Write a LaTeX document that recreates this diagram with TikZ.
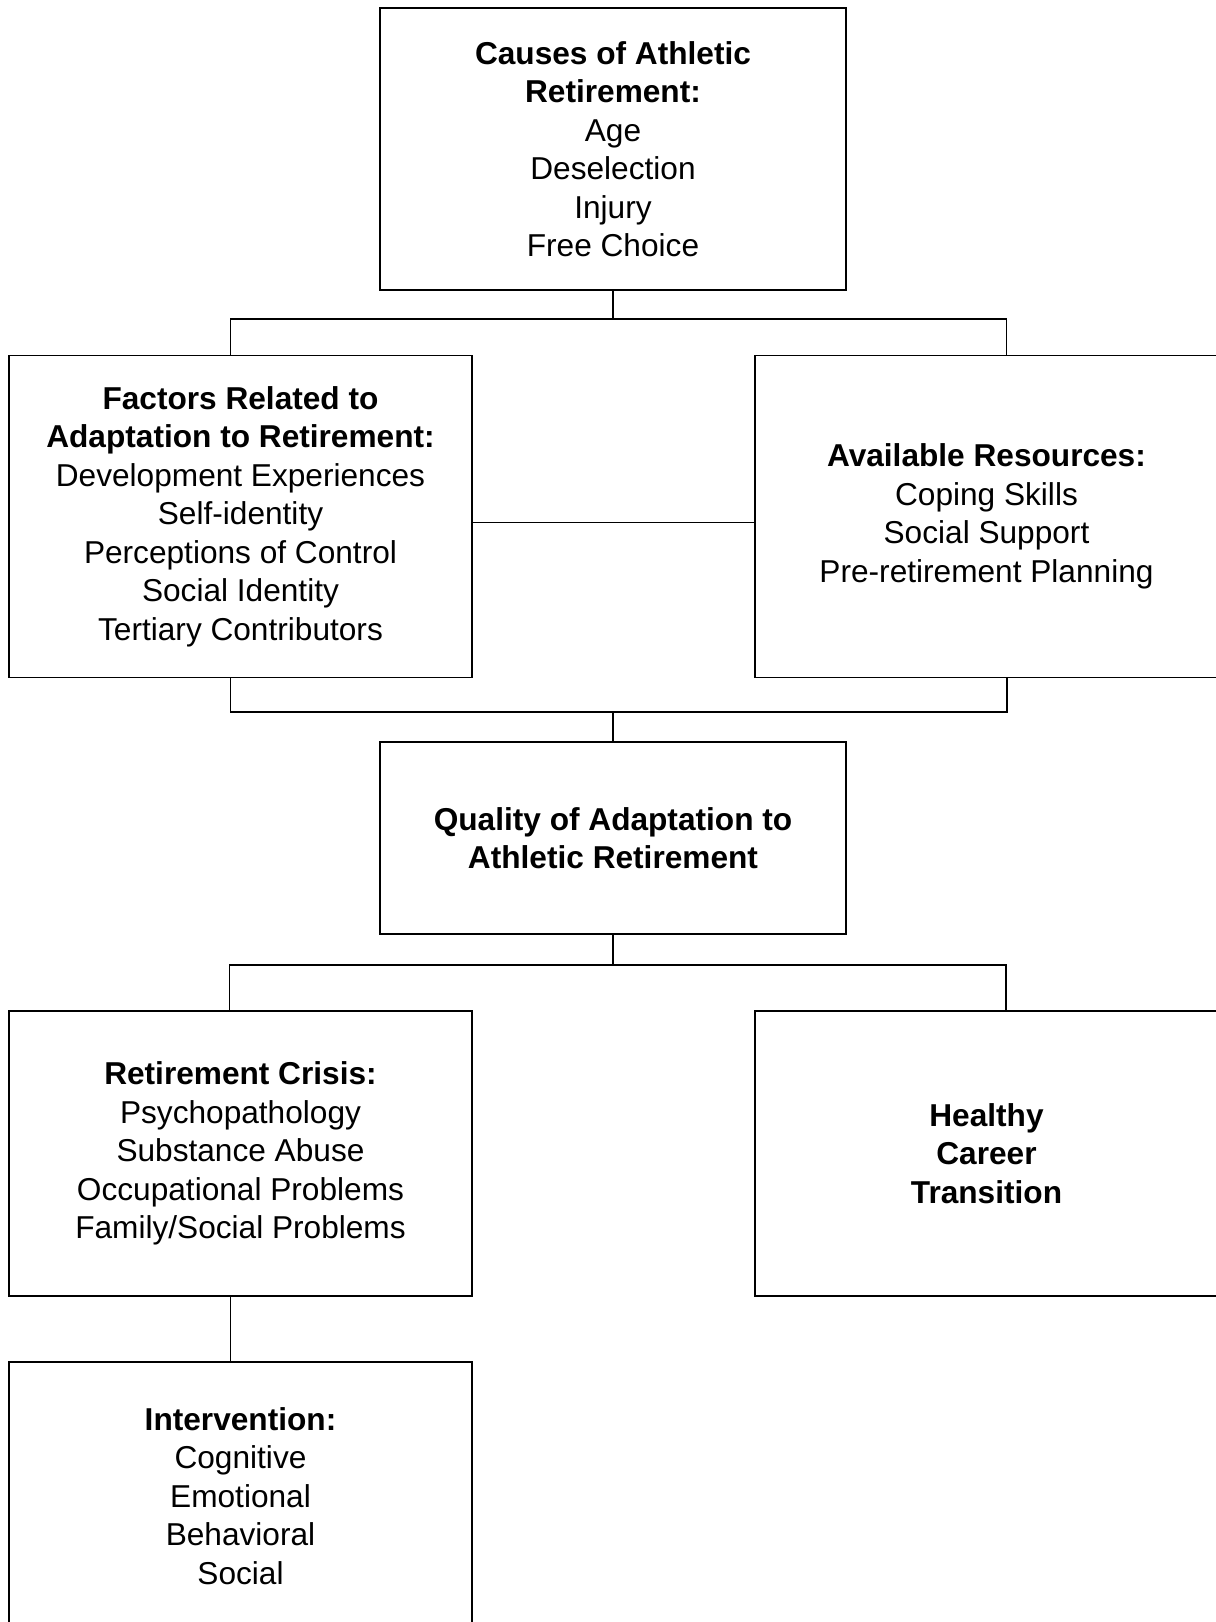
\documentclass[tikz,border=0pt]{standalone}
\usepackage{fontspec}
\setmainfont{Liberation Sans}
\usepackage{tikz}
\usetikzlibrary{positioning, calc}
\tikzset{%
	stagebox/.style={
		draw,
		rectangle,
		line width=1.1pt,
		align=center,
		inner sep=0pt,
		font=\fontsize{18}{21.9}\selectfont
	},
	link/.style={
		draw,
		line width=1.1pt
	},
}

\begin{document}
\begin{tikzpicture}
	\useasboundingbox (0,0) rectangle (24.3,-32.44);

	% Draw the top box
	\node[stagebox, minimum width=9.31cm, minimum height=5.63cm] (causes) at (12.26,-2.98)
		{\textbf{Causes of Athletic}\\\textbf{Retirement:}\\Age\\Deselection\\Injury\\Free Choice};

	% Draw the second row
	\node[stagebox, minimum width=9.25cm, minimum height=6.44cm] (factors) at (4.81,-10.33)
		{\textbf{Factors Related to}\\\textbf{Adaptation to Retirement:}\\Development Experiences\\Self-identity\\Perceptions of Control\\Social Identity\\Tertiary Contributors};
	\node[stagebox, minimum width=9.25cm, minimum height=6.44cm] (resources) at (19.73,-10.33)
		{\textbf{Available Resources:}\\Coping Skills\\Social Support\\Pre-retirement Planning};

	% Draw the middle box
	\node[stagebox, minimum width=9.31cm, minimum height=3.83cm] (quality) at (12.26,-16.76)
		{\textbf{Quality of Adaptation to}\\\textbf{Athletic Retirement}};

	% Draw the outcome boxes
	\node[stagebox, minimum width=9.25cm, minimum height=5.69cm] (crisis) at (4.81,-23.07)
		{\textbf{Retirement Crisis:}\\Psychopathology\\Substance Abuse\\Occupational Problems\\Family/Social Problems};
	\node[stagebox, minimum width=9.25cm, minimum height=5.69cm] (healthy) at (19.73,-23.07)
		{\textbf{Healthy}\\\textbf{Career}\\\textbf{Transition}};

	% Draw the intervention box
	\node[stagebox, minimum width=9.25cm, minimum height=5.37cm] (intervention) at (4.81,-29.92)
		{\textbf{Intervention:}\\Cognitive\\Emotional\\Behavioral\\Social};

	% Junctions
	\coordinate (splitA) at (12.26,-6.386);
	\coordinate (leftA) at (4.61,-6.386);
	\coordinate (rightA) at (20.13,-6.386);
	\coordinate (leftB) at (4.61,-14.234);
	\coordinate (rightB) at (20.14,-14.234);
	\coordinate (splitB) at (12.26,-14.234);
	\coordinate (splitC) at (12.26,-19.294);
	\coordinate (leftC) at (4.59,-19.294);
	\coordinate (rightC) at (20.12,-19.294);

	% Draw the connectors
	\draw[link] (causes.south) -- (splitA);
	\draw[link] (factors.north -| leftA) -- (leftA) -- (rightA) -- (resources.north -| rightA);
	\draw[link] ([yshift=-0.12cm]factors.east) -- ([yshift=-0.12cm]resources.west);
	\draw[link] (factors.south -| leftB) -- (leftB) -- (rightB) -- (resources.south -| rightB);
	\draw[link] (splitB) -- (quality.north);
	\draw[link] (quality.south) -- (splitC);
	\draw[link] (crisis.north -| leftC) -- (leftC) -- (rightC) -- (healthy.north -| rightC);
	\draw[link] (crisis.south -| leftB) -- (intervention.north -| leftB);
\end{tikzpicture}
\end{document}
